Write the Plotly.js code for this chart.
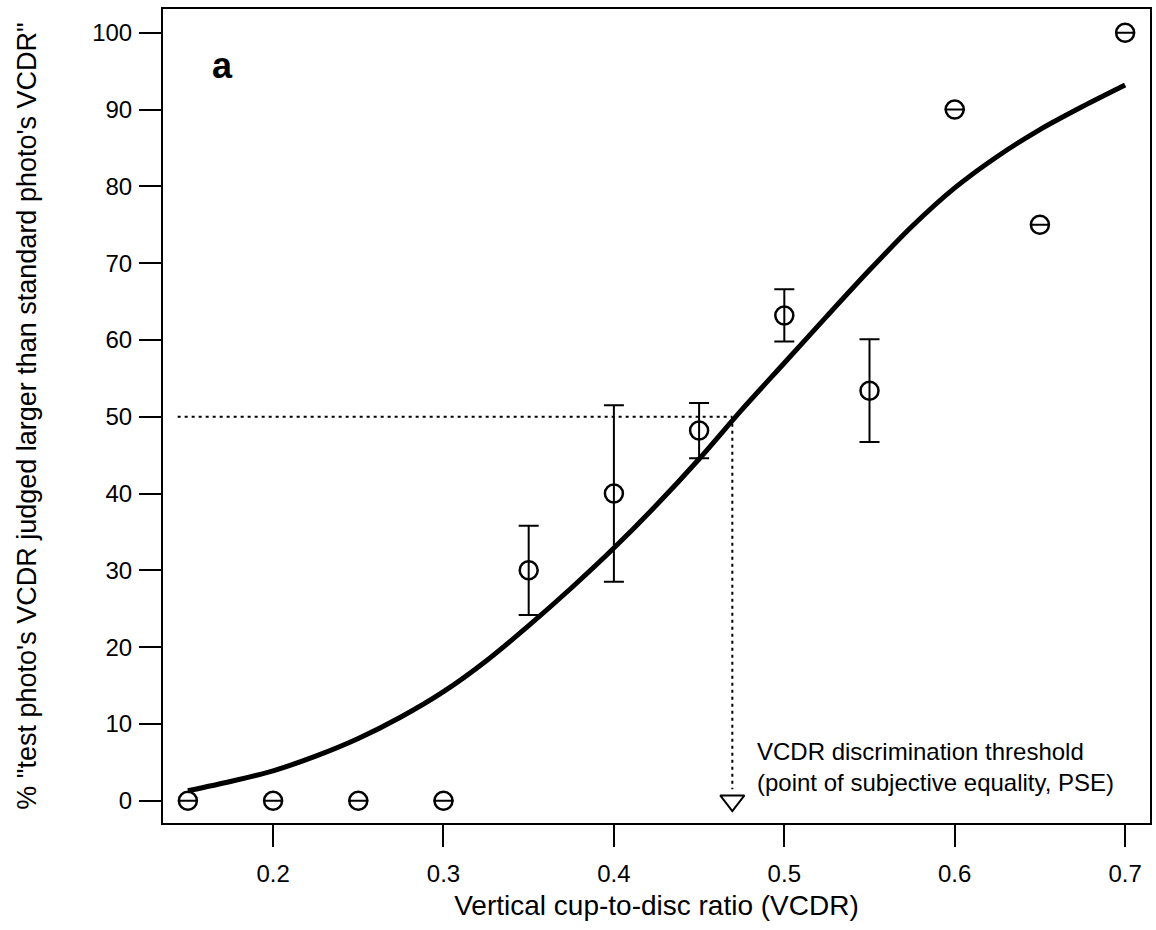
<!DOCTYPE html>
<html>
<head>
<meta charset="utf-8">
<script src="https://cdn.plot.ly/plotly-3.0.1.min.js"></script>
<style>html,body{margin:0;padding:0;background:#fff;}#chart{width:1156px;height:930px;}</style>
</head>
<body>
<div id="chart"></div>
<script>
// Observed data points
const vcdr = [0.15, 0.2, 0.25, 0.3, 0.35, 0.4, 0.45, 0.5, 0.55, 0.6, 0.65, 0.7];
const pctLarger = [0, 0, 0, 0, 30, 40, 48.2, 63.2, 53.4, 90, 75, 100];
const pctError = [0, 0, 0, 0, 5.8, 11.5, 3.6, 3.4, 6.7, 0, 0, 0];

// Fitted psychometric curve
const fitX = [0.15, 0.175, 0.2, 0.225, 0.25, 0.275, 0.3, 0.325, 0.35, 0.375, 0.4, 0.425, 0.45, 0.475, 0.5, 0.525, 0.55, 0.575, 0.6, 0.625, 0.65, 0.675, 0.7];
const fitY = [1.3, 2.5, 3.9, 5.8, 8.1, 10.9, 14.2, 18.2, 22.8, 27.7, 32.9, 38.5, 44.5, 50.9, 57.0, 63.1, 69.1, 74.8, 79.8, 83.9, 87.4, 90.4, 93.2];

// PSE (50% point)
const pse = 0.4695;
const pseLevel = 50;
const guideStartX = 0.144;
const arrowTipY = 1.5;

const font = "Liberation Sans, Arial, sans-serif";

const traces = [
  {
    x: fitX, y: fitY, mode: 'lines', type: 'scatter',
    line: {color: '#000', width: 5, shape: 'spline', smoothing: 0.8},
    hoverinfo: 'skip', showlegend: false
  },
  {
    x: [guideStartX, pse], y: [pseLevel, pseLevel], mode: 'lines', type: 'scatter',
    line: {color: '#000', width: 2, dash: '3px,4px'}, showlegend: false, hoverinfo: 'skip'
  },
  {
    x: [pse, pse], y: [pseLevel, arrowTipY], mode: 'lines', type: 'scatter',
    line: {color: '#000', width: 2, dash: '3px,4px'}, showlegend: false, hoverinfo: 'skip'
  },
  {
    x: [pse], y: [0], mode: 'markers', type: 'scatter',
    marker: {symbol: 'triangle-down-open', size: 21, color: '#000', line: {width: 2, color: '#000'}},
    showlegend: false
  },
  {
    x: vcdr, y: pctLarger, mode: 'markers', type: 'scatter',
    marker: {symbol: 'circle-open', size: 18, color: '#000', line: {width: 2.5, color: '#000'}},
    error_y: {type: 'data', array: pctError, visible: true, color: '#000', thickness: 2, width: 10},
    showlegend: false
  }
];

const layout = {
  width: 1156, height: 930,
  margin: {l: 163, r: 6, t: 9, b: 107},
  paper_bgcolor: '#fff', plot_bgcolor: '#fff',
  font: {family: font, size: 24, color: '#000'},
  showlegend: false,
  xaxis: {
    range: [0.1354, 0.7146],
    tickvals: [0.2, 0.3, 0.4, 0.5, 0.6, 0.7],
    ticktext: ['0.2', '0.3', '0.4', '0.5', '0.6', '0.7'],
    ticks: 'outside', ticklen: 22, tickwidth: 2, tickcolor: '#000',
    ticklabelstandoff: 6,
    showline: true, linewidth: 2, linecolor: '#000', mirror: true,
    showgrid: false, zeroline: false,
    tickfont: {family: font, size: 24, color: '#000'},
    title: {text: 'Vertical cup-to-disc ratio (VCDR)', font: {family: font, size: 28, color: '#000'}, standoff: 10}
  },
  yaxis: {
    range: [-2.9, 103.1],
    tickvals: [0, 10, 20, 30, 40, 50, 60, 70, 80, 90, 100],
    ticks: 'outside', ticklen: 22, tickwidth: 2, tickcolor: '#000',
    ticklabelstandoff: 2,
    showline: true, linewidth: 2, linecolor: '#000', mirror: true,
    showgrid: false, zeroline: false,
    tickfont: {family: font, size: 24, color: '#000'},
    title: {text: '% "test photo\'s VCDR judged larger than standard photo\'s VCDR"', font: {family: font, size: 27, color: '#000'}, standoff: 48}
  },
  annotations: [
    {
      text: '<b>a</b>', xref: 'paper', yref: 'paper', x: 0.0598, y: 0.931,
      xanchor: 'center', yanchor: 'middle', showarrow: false,
      font: {family: font, size: 36, color: '#000'}
    },
    {
      text: 'VCDR discrimination threshold<br>(point of subjective equality, PSE)',
      xref: 'x', yref: 'y', x: 0.4828, y: 4.4, xanchor: 'left', yanchor: 'middle',
      align: 'left', showarrow: false,
      font: {family: font, size: 24, color: '#000'}
    }
  ]
};

Plotly.newPlot('chart', traces, layout, {staticPlot: true, displayModeBar: false});
</script>
</body>
</html>
